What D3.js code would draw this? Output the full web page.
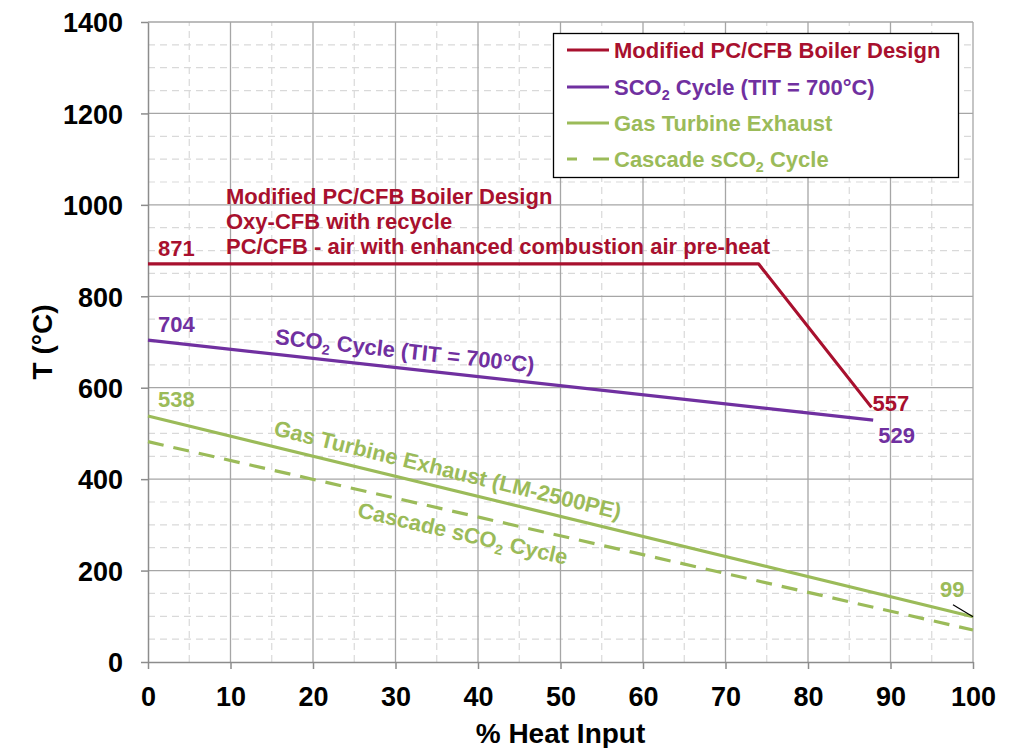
<!DOCTYPE html>
<html>
<head>
<meta charset="utf-8">
<script src="https://cdn.jsdelivr.net/npm/d3@7"></script>
<style>
  html, body { margin: 0; padding: 0; background: #fff; }
  svg { display: block; font-family: "Liberation Sans", Arial, sans-serif; font-weight: bold; }
</style>
</head>
<body>
<svg id="chart" width="1020" height="748"></svg>
<script>
// Axis ticks
const xTicks = [0, 10, 20, 30, 40, 50, 60, 70, 80, 90, 100];
const yTicks = [0, 200, 400, 600, 800, 1000, 1200, 1400];

// Temperature profiles vs % heat input
const boilerX = [0, 74, 87.7];
const boilerT = [871, 871, 557];
const sco2X = [0, 87.9];
const sco2T = [704, 529];
const turbineX = [0, 100];
const turbineT = [538, 99];
const cascadeX = [0, 100];
const cascadeT = [482, 70];

const RED = "#A8102E", PURPLE = "#7030A0", GREEN = "#9BBB59";

const svg = d3.select("#chart");
const margin = { left: 148, right: 47, top: 22, bottom: 86 };
const W = 1020, H = 748;
const x = d3.scaleLinear().domain([0, 100]).range([margin.left, W - margin.right]);
const y = d3.scaleLinear().domain([0, 1400]).range([H - margin.bottom, margin.top]);

// Minor dashed grid (every 5 % and every 50 °C)
const g = svg.append("g");
g.selectAll(".vminor").data(d3.range(5, 100, 10)).join("line")
  .attr("x1", d => x(d)).attr("x2", d => x(d)).attr("y1", y(0)).attr("y2", y(1400))
  .attr("stroke", "#d9d9d9").attr("stroke-width", 1.2).attr("stroke-dasharray", "7,5");
g.selectAll(".hminor").data(d3.range(50, 1400, 50).filter(v => v % 200 !== 0)).join("line")
  .attr("x1", x(0)).attr("x2", x(100)).attr("y1", d => y(d)).attr("y2", d => y(d))
  .attr("stroke", "#d9d9d9").attr("stroke-width", 1.2).attr("stroke-dasharray", "7,5");

// Major solid grid
g.selectAll(".vmajor").data(xTicks.slice(1)).join("line")
  .attr("x1", d => x(d)).attr("x2", d => x(d)).attr("y1", y(0)).attr("y2", y(1400))
  .attr("stroke", "#a6a6a6").attr("stroke-width", 1.3);
g.selectAll(".hmajor").data(yTicks.slice(1)).join("line")
  .attr("x1", x(0)).attr("x2", x(100)).attr("y1", d => y(d)).attr("y2", d => y(d))
  .attr("stroke", "#a6a6a6").attr("stroke-width", 1.3);

// Axes
const tickFs = 27;
const xAxis = svg.append("g").attr("transform", `translate(0,${y(0)})`)
  .call(d3.axisBottom(x).tickValues(xTicks).tickFormat(d3.format("d"))
    .tickSize(7).tickPadding(18).tickSizeOuter(0));
const yAxis = svg.append("g").attr("transform", `translate(${x(0)},0)`)
  .call(d3.axisLeft(y).tickValues(yTicks).tickFormat(d3.format("d"))
    .tickSize(7).tickPadding(18).tickSizeOuter(0));
[xAxis, yAxis].forEach(a => {
  a.select(".domain").attr("stroke", "#8c8c8c").attr("stroke-width", 1.5);
  a.selectAll(".tick line").attr("stroke", "#8c8c8c").attr("stroke-width", 1.5);
  a.selectAll("text").attr("fill", "#000").attr("font-size", tickFs)
    .attr("font-family", "'Liberation Sans', Arial, sans-serif").attr("font-weight", "bold");
});
yAxis.selectAll("text").attr("dy", "0.36em");
xAxis.selectAll("text").attr("dy", "0.72em");

// Axis titles
svg.append("text").attr("x", (x(0) + x(100)) / 2).attr("y", 743)
  .attr("text-anchor", "middle").attr("font-size", 28).text("% Heat Input");
svg.append("text").attr("transform", `translate(52,${(y(0) + y(1400)) / 2}) rotate(-90)`)
  .attr("text-anchor", "middle").attr("font-size", 28).text("T (°C)");

// Profile lines
const line = d3.line().x(d => x(d[0])).y(d => y(d[1]));
const zip = (a, b) => a.map((v, i) => [v, b[i]]);
const series = [
  { xs: boilerX, ts: boilerT, color: RED, dash: null },
  { xs: sco2X, ts: sco2T, color: PURPLE, dash: null },
  { xs: turbineX, ts: turbineT, color: GREEN, dash: null },
  { xs: cascadeX, ts: cascadeT, color: GREEN, dash: "16,10" }
];
series.forEach(s => {
  svg.append("path").datum(zip(s.xs, s.ts)).attr("d", line)
    .attr("fill", "none").attr("stroke", s.color).attr("stroke-width", 3.2)
    .attr("stroke-linejoin", "round").attr("stroke-dasharray", s.dash);
});

// Point value labels
const fs = 22;
function valueLabel(px, py, txt, color) {
  svg.append("text").attr("x", px).attr("y", py).attr("fill", color)
    .attr("font-size", fs).text(txt);
}
valueLabel(x(boilerX[0]) + 10, y(boilerT[0]) - 8, boilerT[0], RED);
valueLabel(x(sco2X[0]) + 10, y(sco2T[0]) - 8, sco2T[0], PURPLE);
valueLabel(x(turbineX[0]) + 10, y(turbineT[0]) - 9, turbineT[0], GREEN);
valueLabel(x(boilerX[2]) + 1, y(boilerT[2]) + 4, boilerT[2], RED);
valueLabel(x(sco2X[1]) + 5, y(sco2T[1]) + 23, sco2T[1], PURPLE);
valueLabel(x(turbineX[1]) - 33, y(turbineT[1]) - 20, turbineT[1], GREEN);
svg.append("line")
  .attr("x1", x(turbineX[1]) - 20).attr("y1", y(turbineT[1]) - 12)
  .attr("x2", x(turbineX[1])).attr("y2", y(turbineT[1]))
  .attr("stroke", "#000").attr("stroke-width", 1.2);

// Boiler description block
const boilerNotes = [
  "Modified PC/CFB Boiler Design",
  "Oxy-CFB with recycle",
  "PC/CFB - air with enhanced combustion air pre-heat"
];
svg.append("text").attr("fill", RED).attr("font-size", fs)
  .selectAll("tspan").data(boilerNotes).join("tspan")
  .attr("x", 226).attr("y", (d, i) => y(boilerT[0]) - 60 + i * 25).text(d => d);

// Rotated labels along sloped lines
function slopeLabel(xs, ts, atX, offset, color, parts) {
  const ang = Math.atan2(y(ts[1]) - y(ts[0]), x(xs[1]) - x(xs[0])) * 180 / Math.PI;
  const t = ts[0] + (ts[1] - ts[0]) * (atX - xs[0]) / (xs[1] - xs[0]);
  const txt = svg.append("text")
    .attr("transform", `translate(${x(atX)},${y(t)}) rotate(${ang})`)
    .attr("y", offset).attr("fill", color).attr("font-size", fs);
  parts.forEach(p => {
    txt.append("tspan").attr("font-size", p.sub ? fs * 0.65 : fs)
      .attr("dy", p.sub ? 5 : (p.after ? -5 : 0)).text(p.t);
  });
}
slopeLabel(sco2X, sco2T, 15.2, -10, PURPLE,
  [{ t: "SCO" }, { t: "2", sub: true }, { t: " Cycle (TIT = 700°C)", after: true }]);
slopeLabel(turbineX, turbineT, 14.8, -11, GREEN,
  [{ t: "Gas Turbine Exhaust (LM-2500PE)" }]);
slopeLabel(cascadeX, cascadeT, 26, 27, GREEN,
  [{ t: "Cascade sCO" }, { t: "2", sub: true }, { t: " Cycle", after: true }]);

// Legend
const lg = svg.append("g");
lg.append("rect").attr("x", 553.5).attr("y", 33.5).attr("width", 405).attr("height", 144)
  .attr("fill", "#fff").attr("stroke", "#000").attr("stroke-width", 1.3);
const legendRows = [50, 87, 123, 159];
const legendParts = [
  [{ t: "Modified PC/CFB Boiler Design" }],
  [{ t: "SCO" }, { t: "2", sub: true }, { t: " Cycle (TIT = 700°C)", after: true }],
  [{ t: "Gas Turbine Exhaust" }],
  [{ t: "Cascade sCO" }, { t: "2", sub: true }, { t: " Cycle", after: true }]
];
series.forEach((s, i) => {
  lg.append("line").attr("x1", 567).attr("x2", 609)
    .attr("y1", legendRows[i]).attr("y2", legendRows[i])
    .attr("stroke", s.color).attr("stroke-width", 3.2)
    .attr("stroke-dasharray", s.dash ? "10,16,16" : null);
  const t = lg.append("text").attr("x", 614).attr("y", legendRows[i] + 8)
    .attr("fill", s.color).attr("font-size", fs);
  legendParts[i].forEach(p => {
    t.append("tspan").attr("font-size", p.sub ? fs * 0.65 : fs)
      .attr("dy", p.sub ? 5 : (p.after ? -5 : 0)).text(p.t);
  });
});
</script>
</body>
</html>
